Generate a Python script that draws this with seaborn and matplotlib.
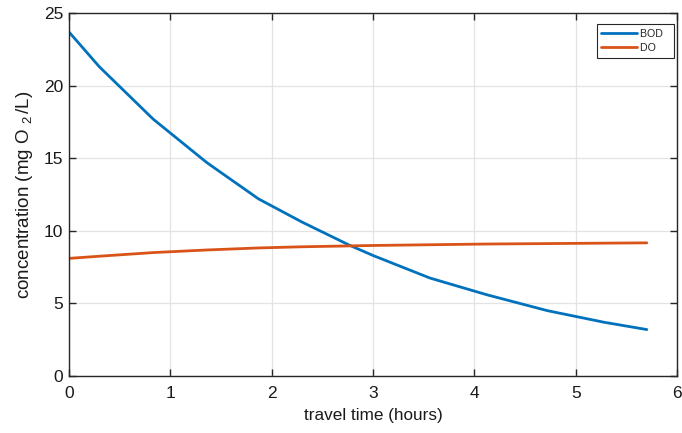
import numpy as np
import pandas as pd
import matplotlib
matplotlib.use("Agg")
import matplotlib.pyplot as plt
import seaborn as sns

# values
travel_time = [0, 0.3, 0.83, 1.36, 1.87, 2.3, 2.77, 3.0, 3.56, 4.12, 4.72, 5.28, 5.7]
bod = [23.7, 21.3, 17.7, 14.7, 12.2, 10.6, 9.0, 8.3, 6.75, 5.6, 4.5, 3.7, 3.2]
do = [8.1, 8.25, 8.5, 8.68, 8.82, 8.9, 8.96, 8.99, 9.04, 9.09, 9.12, 9.15, 9.17]
x_ticks = [0, 1, 2, 3, 4, 5, 6]
y_ticks = [0, 5, 10, 15, 20, 25]

df = pd.DataFrame({"t": travel_time * 2,
                   "value": bod + do,
                   "series": ["BOD  "] * len(bod) + ["DO  "] * len(do)})

sns.set_style("whitegrid")
plt.rcParams["font.family"] = ["Liberation Sans", "DejaVu Sans"]
plt.rcParams["mathtext.fontset"] = "custom"
plt.rcParams["mathtext.rm"] = "Liberation Sans"
plt.rcParams["mathtext.it"] = "Liberation Sans"

fig = plt.figure(figsize=(6.82, 4.33), dpi=100)
ax = fig.add_axes([0.101, 0.1316, 0.892, 0.8384])

sns.lineplot(data=df, x="t", y="value", hue="series",
             palette={"BOD  ": "#0072BD", "DO  ": "#D95319"},
             linewidth=2, ax=ax)

ax.set_xlim(0, 6)
ax.set_ylim(0, 25)
ax.set_xticks(x_ticks)
ax.set_yticks(y_ticks)
ax.grid(True, color="#e3e3e3", linewidth=0.9)
for s in ax.spines.values():
    s.set_visible(True)
    s.set_color("#262626")
    s.set_linewidth(1.0)
ax.tick_params(direction="in", length=5, width=1, color="#262626",
               labelsize=12.5, labelcolor="#1a1a1a",
               top=True, right=True, bottom=True, left=True)
ax.tick_params(axis="x", pad=7)
ax.tick_params(axis="y", pad=4)
ax.set_xlabel("travel time (hours)", fontsize=12.3, color="#1a1a1a", labelpad=5)
ax.set_ylabel(r"concentration (mg O $_{2}\,$/L)", fontsize=13.5, color="#1a1a1a",
              labelpad=6)

leg = ax.legend(loc="upper right", bbox_to_anchor=(0.995, 0.969), fontsize=7.7,
                handlelength=3.3, frameon=True, fancybox=False, borderpad=0.45,
                labelspacing=0.35, handletextpad=0.35, borderaxespad=0)
leg.get_frame().set_edgecolor("#262626")
leg.get_frame().set_linewidth(0.8)
leg.get_frame().set_alpha(1)

fig.savefig("out.png", dpi=100)
